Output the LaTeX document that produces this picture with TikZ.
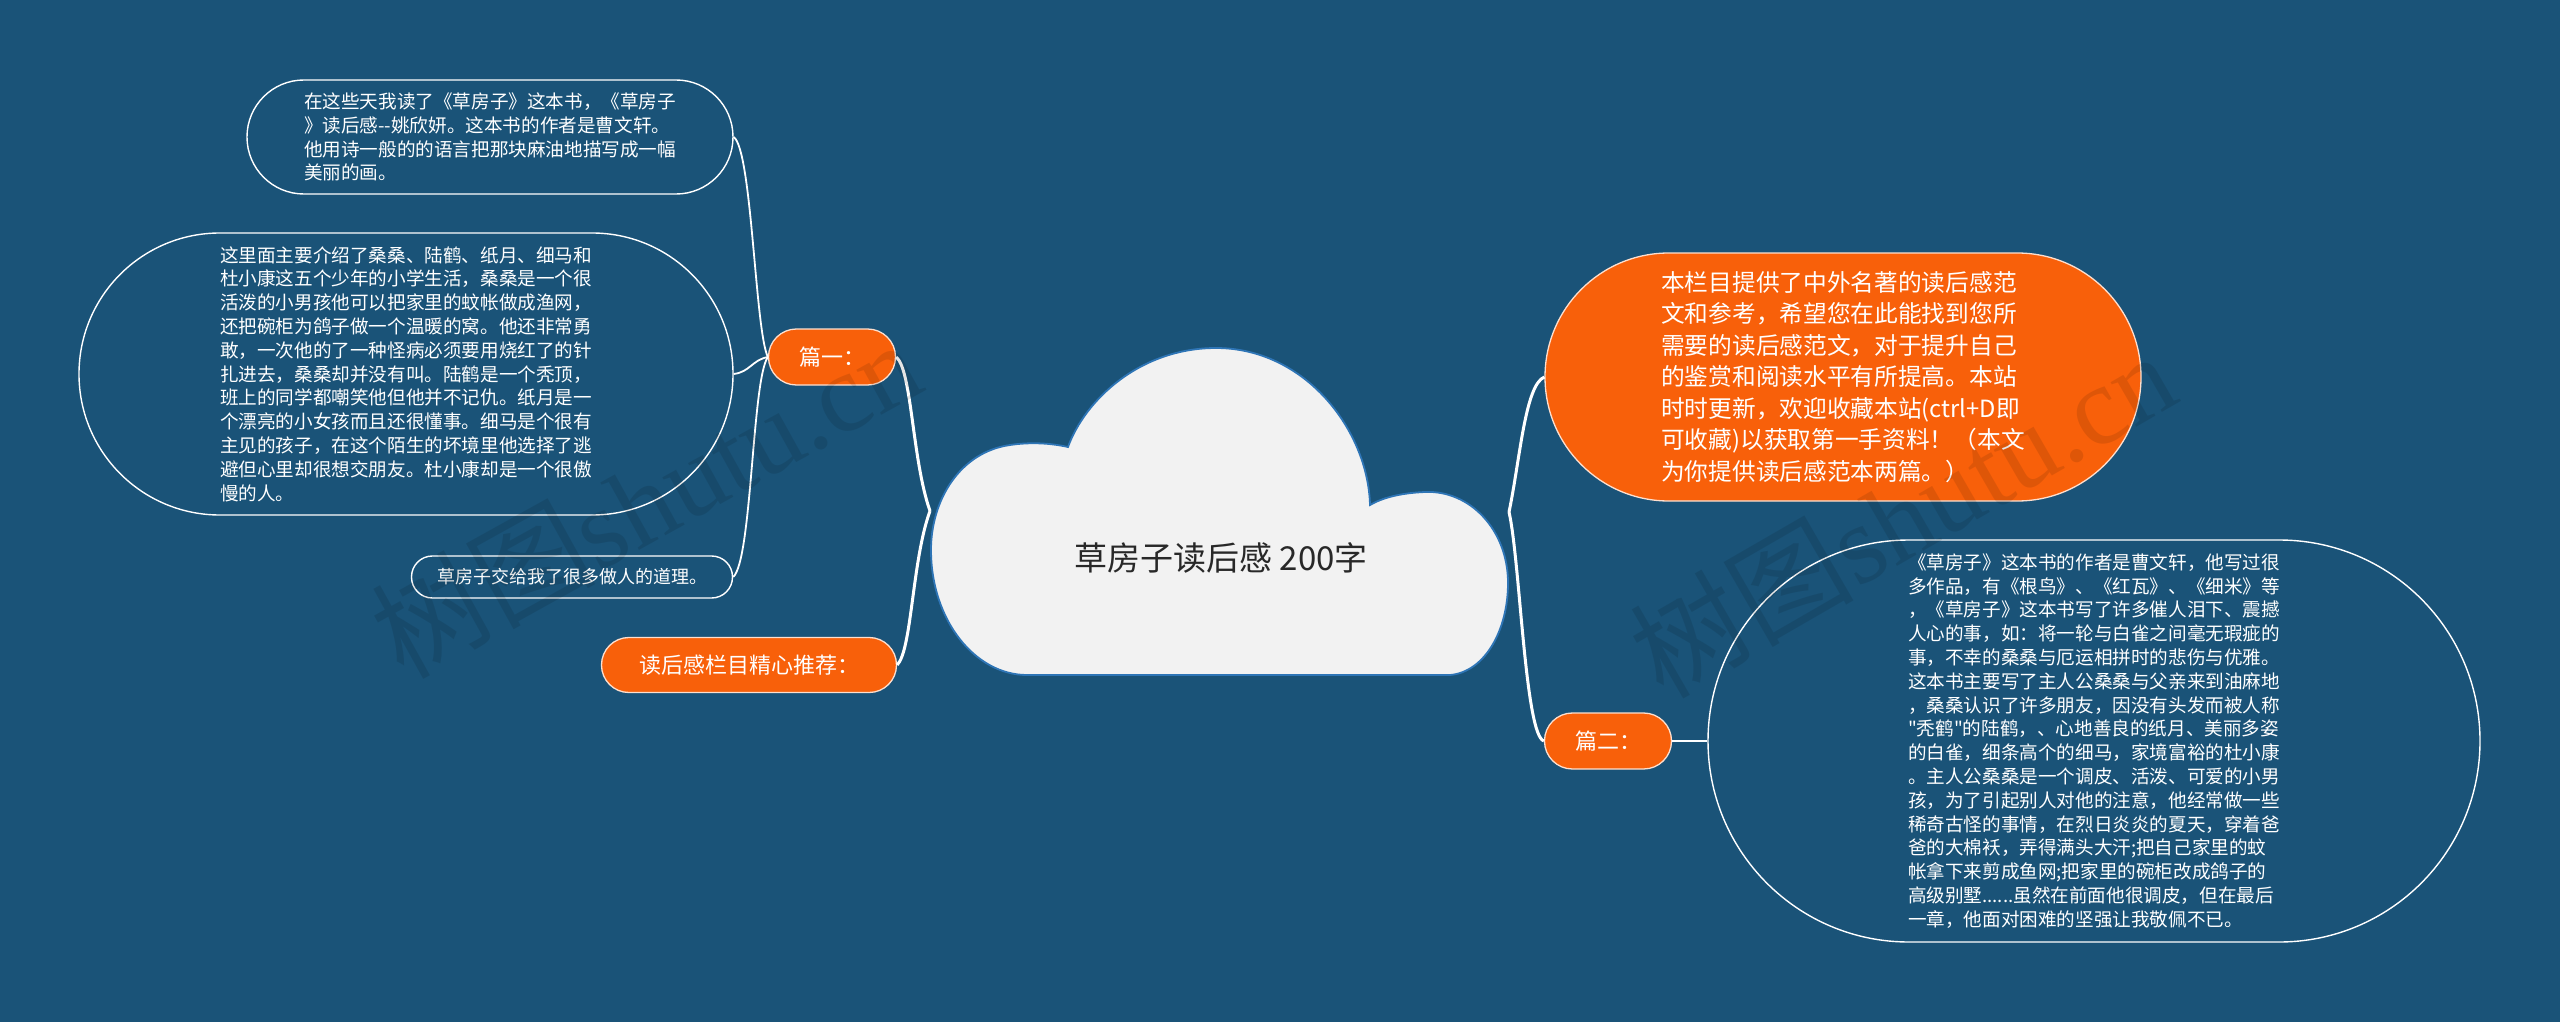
\documentclass[tikz,border=0pt]{standalone}
\usepackage{fontspec}
\setmainfont{Noto Sans CJK SC}[Ligatures=TeXOff]
\newfontfamily\wmlatin{Liberation Serif}
\newfontfamily\wmcjk{Noto Sans CJK SC}
\definecolor{bgblue}{RGB}{26,83,120}
\definecolor{mmorange}{RGB}{248,96,10}
\definecolor{cloudfill}{RGB}{242,242,242}
\definecolor{cloudline}{RGB}{46,117,182}
\definecolor{darktext}{RGB}{40,40,40}
\tikzset{
  leafbox/.style={draw=white, line width=1.4pt, fill=bgblue, text=white, align=left, inner sep=0pt,
    font=\fontsize{18.6pt}{23.8pt}\selectfont},
  orangebox/.style={draw=white!80!mmorange, line width=1.3pt, fill=mmorange, text=white, inner sep=0pt,
    font=\fontsize{22pt}{26pt}\selectfont},
  mainline/.style={draw=white, line width=3pt},
  subline/.style={draw=white, line width=1.8pt},
  wmark/.style={text=black, text opacity=0.10, inner sep=0pt}
}
\begin{document}
\begin{tikzpicture}[x=1pt, y=-1pt]
\useasboundingbox (0,0) rectangle (2560,1022);
\fill[bgblue] (0,0) rectangle (2560,1022);

% central cloud
\draw[fill=cloudfill, draw=cloudline, line width=1.8pt]
  (1027,675) -- (1450,675)
  .. controls (1485,672) and (1508,630) .. (1508,583)
  .. controls (1508,530) and (1470,490) .. (1425,492)
  .. controls (1400,493) and (1382,498) .. (1370,505)
  .. controls (1368,430) and (1305,348) .. (1216,348)
  .. controls (1140,348) and (1085,400) .. (1068,447)
  .. controls (1050,443) and (1030,442) .. (1010,445)
  .. controls (960,452) and (931,500) .. (931,550)
  .. controls (931,620) and (975,675) .. (1027,675) -- cycle;
\node[text=darktext, font=\fontsize{33pt}{38pt}\selectfont, inner sep=0pt] (root) at (1221,558) {草房子读后感 200字};
\coordinate (cloudL) at (930,511);
\coordinate (cloudR) at (1509,512);

% first level
\node[orangebox, minimum width=127pt, minimum height=56pt, rounded corners=27.9pt] (p1) at (832,357) {篇一：};
\node[orangebox, minimum width=295pt, minimum height=55pt, rounded corners=27.4pt] (rec) at (749,665) {读后感栏目精心推荐：};
\node[orangebox, minimum width=127pt, minimum height=56pt, rounded corners=27.9pt] (p2) at (1608,741) {篇二：};
\node[orangebox, minimum width=596pt, minimum height=248pt, rounded corners=123.9pt, align=left,
  font=\fontsize{23.7pt}{31.5pt}\selectfont] (intro) at (1843,377)
  {本栏目提供了中外名著的读后感范\\文和参考，希望您在此能找到您所\\需要的读后感范文，对于提升自己\\的鉴赏和阅读水平有所提高。本站\\时时更新，欢迎收藏本站(ctrl+D即\\可收藏)以获取第一手资料！（本文\\为你提供读后感范本两篇。）};

% second level
\node[leafbox, minimum width=486pt, minimum height=114pt, rounded corners=56.9pt] (tl) at (490,137)
  {在这些天我读了《草房子》这本书，《草房子\\》读后感--姚欣妍。这本书的作者是曹文轩。\\他用诗一般的的语言把那块麻油地描写成一幅\\美丽的画。};
\node[leafbox, minimum width=654pt, minimum height=282pt, rounded corners=140.9pt] (bl) at (406,374)
  {这里面主要介绍了桑桑、陆鹤、纸月、细马和\\杜小康这五个少年的小学生活，桑桑是一个很\\活泼的小男孩他可以把家里的蚊帐做成渔网，\\还把碗柜为鸽子做一个温暖的窝。他还非常勇\\敢，一次他的了一种怪病必须要用烧红了的针\\扎进去，桑桑却并没有叫。陆鹤是一个秃顶，\\班上的同学都嘲笑他但他并不记仇。纸月是一\\个漂亮的小女孩而且还很懂事。细马是个很有\\主见的孩子，在这个陌生的坏境里他选择了逃\\避但心里却很想交朋友。杜小康却是一个很傲\\慢的人。};
\node[leafbox, minimum width=321pt, minimum height=42pt, rounded corners=20.9pt, font=\fontsize{18pt}{22pt}\selectfont] (sm) at (572,577)
  {草房子交给我了很多做人的道理。};
\node[leafbox, minimum width=772pt, minimum height=402pt, rounded corners=200.9pt] (rb) at (2094,741)
  {《草房子》这本书的作者是曹文轩，他写过很\\多作品，有《根鸟》、《红瓦》、《细米》等\\，《草房子》这本书写了许多催人泪下、震撼\\人心的事，如：将一轮与白雀之间毫无瑕疵的\\事，不幸的桑桑与厄运相拼时的悲伤与优雅。\\这本书主要写了主人公桑桑与父亲来到油麻地\\，桑桑认识了许多朋友，因没有头发而被人称\\"秃鹤"的陆鹤，、心地善良的纸月、美丽多姿\\的白雀，细条高个的细马，家境富裕的杜小康\\。主人公桑桑是一个调皮、活泼、可爱的小男\\孩，为了引起别人对他的注意，他经常做一些\\稀奇古怪的事情，在烈日炎炎的夏天，穿着爸\\爸的大棉袄，弄得满头大汗;把自己家里的蚊\\帐拿下来剪成鱼网;把家里的碗柜改成鸽子的\\高级别墅......虽然在前面他很调皮，但在最后\\一章，他面对困难的坚强让我敬佩不已。};

% connectors level 1
\draw[mainline] (p1.east) .. controls (912,370) and (912,460) .. (cloudL);
\draw[mainline] (rec.east) .. controls (912,650) and (912,560) .. (cloudL);
\draw[mainline] (cloudR) .. controls (1520,460) and (1525,385) .. (intro.west);
\draw[mainline] (cloudR) .. controls (1520,560) and (1525,735) .. (p2.west);

% connectors level 2
\draw[subline] (p1.west) .. controls (755,330) and (752,150) .. (tl.east);
\draw[subline] (p1.west) .. controls (752,360) and (750,372) .. (bl.east);
\draw[subline] (p1.west) .. controls (752,380) and (752,560) .. (sm.east);
\draw[subline] (p2.east) -- (rb.west);

% watermarks
\node[wmark, rotate=29] (wm1) at (645,498) {\fontsize{112pt}{120pt}\selectfont{\wmcjk 树图}{\wmlatin shutu.cn}};
\node[wmark, rotate=30] (wm2) at (1902,514) {\fontsize{112pt}{120pt}\selectfont{\wmcjk 树图}{\wmlatin shutu.cn}};
\end{tikzpicture}
\end{document}
